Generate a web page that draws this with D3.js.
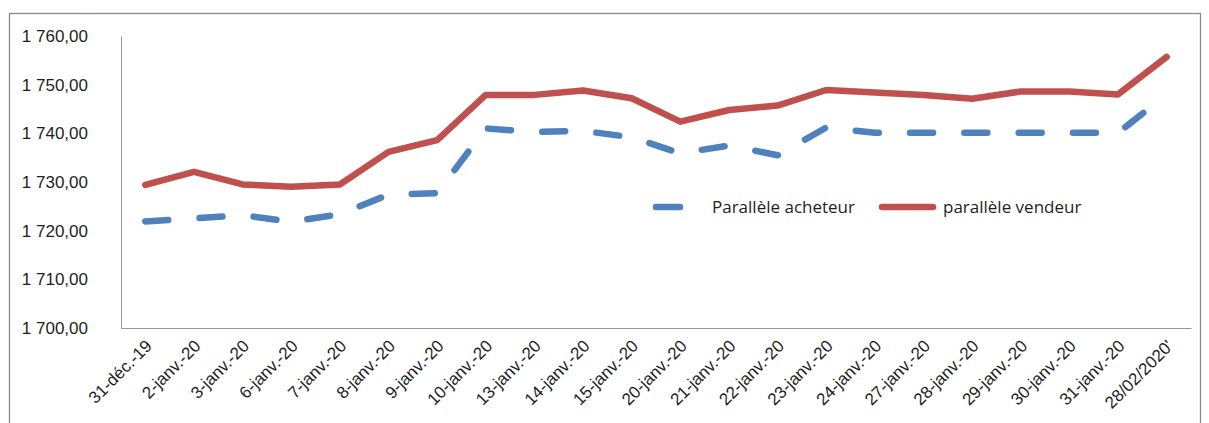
<!DOCTYPE html>
<html>
<head>
<meta charset="utf-8">
<script src="https://cdn.jsdelivr.net/npm/d3@7/dist/d3.min.js"></script>
<style>
  html, body { margin: 0; padding: 0; background: #fff; }
  svg { display: block; font-family: "Open Sans", "Noto Sans", sans-serif; }
</style>
</head>
<body>
<svg id="chart" width="1209" height="423"></svg>
<script>
// Dates (category axis)
const dates = [
  "31-déc.-19", "2-janv.-20", "3-janv.-20", "6-janv.-20", "7-janv.-20",
  "8-janv.-20", "9-janv.-20", "10-janv.-20", "13-janv.-20", "14-janv.-20",
  "15-janv.-20", "20-janv.-20", "21-janv.-20", "22-janv.-20", "23-janv.-20",
  "24-janv.-20", "27-janv.-20", "28-janv.-20", "29-janv.-20", "30-janv.-20",
  "31-janv.-20", "28/02/2020'"
];

// Parallel market buying rate
const acheteur = [
  1721.9, 1722.5, 1723.2, 1721.8, 1723.4, 1727.4, 1727.7, 1741.0, 1740.3, 1740.5,
  1739.2, 1735.9, 1737.5, 1735.5, 1741.2, 1740.1, 1740.1, 1740.1, 1740.1, 1740.1,
  1740.1, 1748.0
];

// Parallel market selling rate
const vendeur = [
  1729.4, 1732.1, 1729.5, 1729.0, 1729.5, 1736.2, 1738.6, 1747.9, 1747.9, 1748.8,
  1747.2, 1742.4, 1744.8, 1745.7, 1748.9, 1748.4, 1747.9, 1747.1, 1748.6, 1748.6,
  1748.0, 1755.7
];

const yTicks = [1700, 1710, 1720, 1730, 1740, 1750, 1760];
const seriesNames = ["Parallèle acheteur", "parallèle vendeur"];

const svg = d3.select("#chart");
const plot = { left: 121, right: 1191, top: 36, bottom: 328 };

// Outer chart frame
svg.append("rect")
  .attr("x", 9.5).attr("y", 13.5)
  .attr("width", 1191).attr("height", 420)
  .attr("fill", "#fff")
  .attr("stroke", "#8c8c8c").attr("stroke-width", 1.3);

const x = d3.scalePoint().domain(dates).range([plot.left, plot.right]).padding(0.5);
const y = d3.scaleLinear().domain([1700, 1760]).range([plot.bottom, plot.top]);

const fr = d3.formatLocale({ decimal: ",", thousands: " ", grouping: [3], currency: ["", " €"] });
const fmt = fr.format(",.2f");

// Y axis
const yAxis = svg.append("g")
  .attr("transform", `translate(${plot.left},0)`)
  .call(d3.axisLeft(y).tickValues(yTicks).tickFormat(fmt).tickSize(0).tickPadding(33));
yAxis.select(".domain").attr("stroke", "#9a9a9a").attr("stroke-width", 1);
yAxis.selectAll("text")
  .attr("fill", "#1e1e1e").style("font-size", "17px");

// X axis with labels slanted at 45 degrees
const xAxis = svg.append("g")
  .attr("transform", `translate(0,${plot.bottom})`)
  .call(d3.axisBottom(x).tickSize(0).tickFormat(d => d));
xAxis.select(".domain").attr("stroke", "#9a9a9a").attr("stroke-width", 1);
xAxis.selectAll("text")
  .attr("fill", "#1e1e1e").style("font-size", "17px")
  .attr("text-anchor", "end")
  .attr("dy", "0")
  .attr("transform", "translate(5,17) rotate(-45)");

// Series lines
const line = d3.line().x((d, i) => x(dates[i])).y(d => y(d));

svg.append("path")
  .datum(vendeur)
  .attr("d", line)
  .attr("fill", "none")
  .attr("stroke", "#C0504D")
  .attr("stroke-width", 6.5)
  .attr("stroke-linejoin", "round")
  .attr("stroke-linecap", "round");

svg.append("path")
  .datum(acheteur)
  .attr("d", line)
  .attr("fill", "none")
  .attr("stroke", "#4F81BD")
  .attr("stroke-width", 6.5)
  .attr("stroke-linejoin", "round")
  .attr("stroke-linecap", "round")
  .attr("stroke-dasharray", "23,31.3");

// Legend
const legend = svg.append("g");
const legendY = 207;
legend.append("line")
  .attr("x1", 656).attr("x2", 713).attr("y1", legendY).attr("y2", legendY)
  .attr("stroke", "#4F81BD").attr("stroke-width", 6.5)
  .attr("stroke-linecap", "round").attr("stroke-dasharray", "24,40");
legend.append("text")
  .attr("x", 712).attr("y", legendY).attr("dy", "0.35em")
  .attr("fill", "#1e1e1e").style("font-size", "17px")
  .text(seriesNames[0]);
legend.append("line")
  .attr("x1", 882).attr("x2", 933).attr("y1", legendY).attr("y2", legendY)
  .attr("stroke", "#C0504D").attr("stroke-width", 6.5)
  .attr("stroke-linecap", "round");
legend.append("text")
  .attr("x", 943).attr("y", legendY).attr("dy", "0.35em")
  .attr("fill", "#1e1e1e").style("font-size", "17px")
  .text(seriesNames[1]);
</script>
</body>
</html>
